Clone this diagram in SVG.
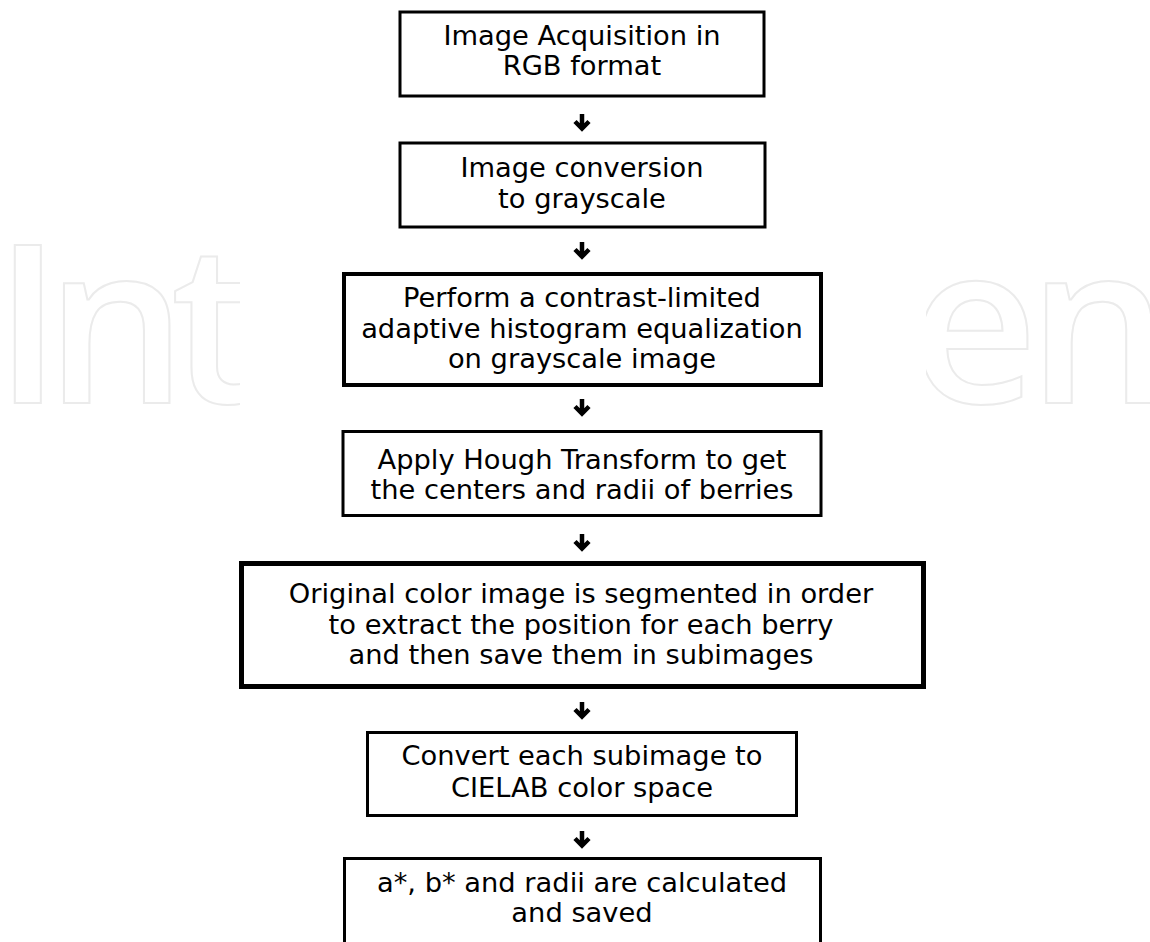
<svg xmlns="http://www.w3.org/2000/svg" width="1150" height="942" viewBox="0 0 1150 942">
<style>
.box{fill:#fff;stroke:#000}
.t{font-family:"DejaVu Sans",sans-serif;font-size:27.3px;fill:#000;text-anchor:middle}
.wm{font-family:"Open Sans",sans-serif;font-weight:600;font-size:222px;fill:none;stroke:#ebebeb;stroke-width:2}
.arr{fill:none;stroke:#000;stroke-width:4.5}
</style>
<defs>
<clipPath id="cl"><rect x="0" y="200" width="240" height="260"/></clipPath>
<clipPath id="cr"><rect x="926" y="200" width="224" height="260"/></clipPath>
<g id="ar"><path class="arr" d="M0,-8 V6 M-7,-0.5 L0,6.5 L7,-0.5"/></g>
</defs>
<rect width="1150" height="942" fill="#fff"/>
<g id="watermark">
<text class="wm" x="-6" y="403" letter-spacing="-16" clip-path="url(#cl)">Int</text>
<text class="wm" x="910" y="403" letter-spacing="-10" clip-path="url(#cr)">en</text>
</g>
<g id="connectors">
<use href="#ar" x="582" y="122"/>
<use href="#ar" x="582" y="250"/>
<use href="#ar" x="582" y="407"/>
<use href="#ar" x="582" y="542"/>
<use href="#ar" x="582" y="710"/>
<use href="#ar" x="582" y="839"/>
</g>
<g id="n1"><rect class="box" x="400" y="12" width="364" height="84" stroke-width="3"/>
<text class="t" x="582" y="45">Image Acquisition in</text><text class="t" x="582" y="75">RGB format</text></g>
<g id="n2"><rect class="box" x="400" y="143" width="365" height="84" stroke-width="3"/>
<text class="t" x="582" y="177">Image conversion</text><text class="t" x="582" y="208">to grayscale</text></g>
<g id="n3"><rect class="box" x="344" y="274" width="477" height="111" stroke-width="4"/>
<text class="t" x="582" y="307">Perform a contrast-limited</text><text class="t" x="582" y="338">adaptive histogram equalization</text><text class="t" x="582" y="368">on grayscale image</text></g>
<g id="n4"><rect class="box" x="343" y="431.5" width="478" height="84" stroke-width="3"/>
<text class="t" x="582" y="469">Apply Hough Transform to get</text><text class="t" x="582" y="499">the centers and radii of berries</text></g>
<g id="n5"><rect class="box" x="241.5" y="563.5" width="682" height="123" stroke-width="5"/>
<text class="t" x="581" y="603">Original color image is segmented in order</text><text class="t" x="581" y="634">to extract the position for each berry</text><text class="t" x="581" y="664">and then save them in subimages</text></g>
<g id="n6"><rect class="box" x="367.5" y="732.5" width="429" height="83" stroke-width="3"/>
<text class="t" x="582" y="765">Convert each subimage to</text><text class="t" x="582" y="797">CIELAB color space</text></g>
<g id="n7"><rect class="box" x="344.5" y="858.5" width="476" height="86" stroke-width="3"/>
<text class="t" x="582" y="892">a*, b* and radii are calculated</text><text class="t" x="582" y="922">and saved</text></g>
</svg>
